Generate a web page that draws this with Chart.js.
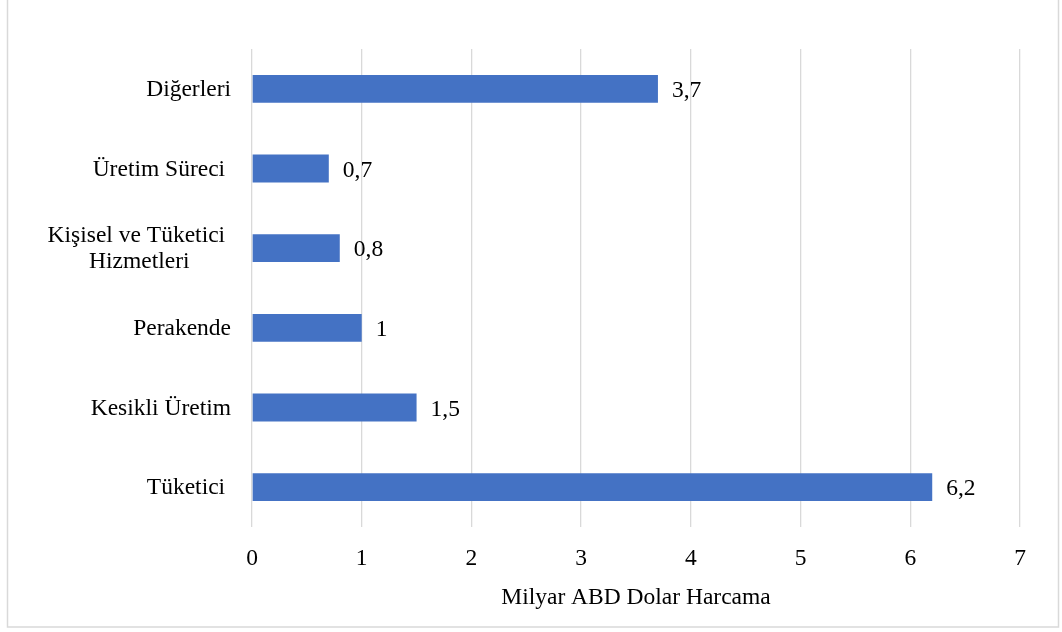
<!DOCTYPE html>
<html>
<head>
<meta charset="utf-8">
<script src="https://cdn.jsdelivr.net/npm/chart.js@4"></script>
<style>
  html, body { margin: 0; padding: 0; background: #fff; }
  #wrap { width: 1062px; height: 632px; position: relative; }
</style>
</head>
<body>
<div id="wrap"><canvas id="c" width="1062" height="632"></canvas></div>
<script>
const categories = ['Diğerleri', 'Üretim Süreci ', ['Kişisel ve Tüketici ', 'Hizmetleri'], 'Perakende', 'Kesikli Üretim', 'Tüketici '];
const values = [3.7, 0.7, 0.8, 1, 1.5, 6.2];
const xTicks = [0, 1, 2, 3, 4, 5, 6, 7];
const axisTitle = 'Milyar ABD Dolar Harcama';

const FONT = '"Liberation Serif", "Times New Roman", serif';
const FS = 23.5;
const fmt = v => String(v).replace('.', ',');

const framePlugin = {
  id: 'frame',
  beforeDraw(chart) {
    const ctx = chart.ctx;
    ctx.save();
    ctx.fillStyle = '#fff';
    ctx.fillRect(0, 0, chart.width, chart.height);
    ctx.strokeStyle = '#d9d9d9';
    ctx.lineWidth = 1.5;
    ctx.strokeRect(7.5, -5, 1051, 632);
    ctx.restore();
  }
};

const labelsPlugin = {
  id: 'customLabels',
  afterDatasetsDraw(chart) {
    const ctx = chart.ctx;
    const ys = chart.scales.y;
    ctx.save();
    ctx.fillStyle = '#000';
    ctx.font = FS + 'px ' + FONT;
    ctx.textBaseline = 'middle';
    // category labels (right-aligned block, lines centered within block)
    categories.forEach((lab, i) => {
      const lines = Array.isArray(lab) ? lab : [lab];
      const y = ys.getPixelForTick(i);
      const w = Math.max(...lines.map(l => ctx.measureText(l).width));
      const cx = 231 - w / 2;
      const lh = 26;
      ctx.textAlign = 'center';
      lines.forEach((l, k) => {
        ctx.fillText(l, cx, y + 1 + (k - (lines.length - 1) / 2) * lh);
      });
    });
    // value labels
    ctx.textAlign = 'left';
    const meta = chart.getDatasetMeta(0);
    meta.data.forEach((bar, i) => {
      ctx.fillText(fmt(values[i]), bar.x + 14, bar.y + 2);
    });
    ctx.restore();
  }
};

new Chart(document.getElementById('c'), {
  type: 'bar',
  data: {
    labels: categories,
    datasets: [{
      data: values,
      backgroundColor: '#4472C4',
      borderWidth: 0,
      categoryPercentage: 1,
      barPercentage: 0.35
    }]
  },
  options: {
    indexAxis: 'y',
    responsive: false,
    animation: false,
    devicePixelRatio: 1,
    layout: { padding: { top: 49, right: 42, left: 0, bottom: 0 } },
    plugins: { legend: { display: false }, tooltip: { enabled: false } },
    scales: {
      x: {
        min: 0, max: 7,
        afterBuildTicks(scale) { scale.ticks = xTicks.map(v => ({ value: v })); },
        afterFit(scale) { scale.height = 105; },
        grid: { color: '#d9d9d9', lineWidth: 1.3, drawTicks: false },
        border: { display: false },
        ticks: { color: '#000', font: { family: FONT, size: FS }, padding: 18 },
        title: {
          display: true, text: axisTitle, color: '#000',
          font: { family: FONT, size: FS }, padding: { top: 0, bottom: 20 }
        }
      },
      y: {
        afterFit(scale) { scale.width = 252; },
        grid: { display: false },
        border: { display: false },
        ticks: { display: false }
      }
    }
  },
  plugins: [framePlugin, labelsPlugin]
});
</script>
</body>
</html>
